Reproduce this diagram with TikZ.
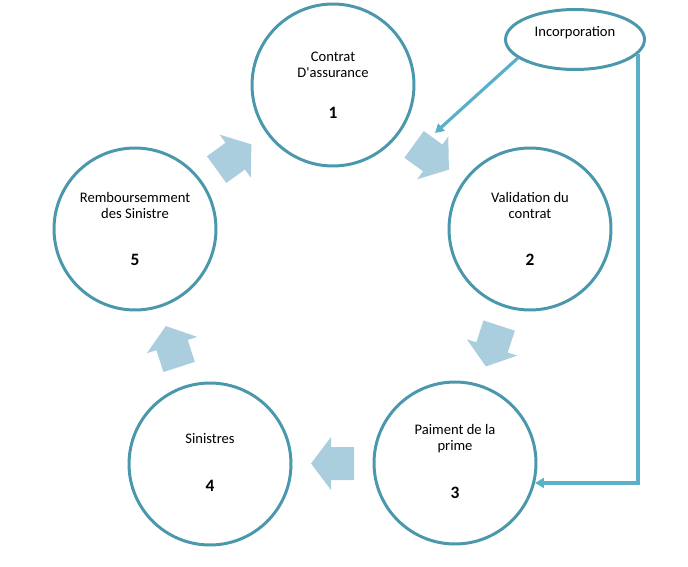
\documentclass[tikz,border=0pt]{standalone}
\usepackage{fontspec}
\setmainfont{Carlito}
\usetikzlibrary{calc,shapes.geometric,arrows.meta}

\definecolor{ringblue}{RGB}{75,152,172}
\definecolor{blockblue}{RGB}{170,206,221}
\definecolor{feedblue}{RGB}{90,176,200}

\begin{document}
\begin{tikzpicture}[x=0.02cm,y=0.02cm,
    stage/.style={circle,draw=ringblue,line width=1.7pt,minimum size=3.24cm,inner sep=0pt},
    stagetext/.style={align=center,font=\fontsize{8.3}{9.1}\selectfont},
    stagenum/.style={font=\fontsize{9.9}{11}\selectfont\bfseries},
    feed/.style={draw=feedblue,line width=1.8pt,-{Triangle[length=5pt,width=5.5pt]}}]

    \def\blockarrow{(-21.5,-16.5) -- (1.5,-16.5) -- (1.5,-26.5) -- (21.5,0) -- (1.5,26.5) -- (1.5,16.5) -- (-21.5,16.5) -- cycle}

    \useasboundingbox (0,0) rectangle (688,566);

    %draw circles:
    \node[stage] (c1) at (333,481) {};
    \node[stage] (c2) at (530,337) {};
    \node[stage] (c3) at (455,103) {};
    \node[stage] (c4) at (210,102) {};
    \node[stage] (c5) at (135,337) {};

    %texts:
    \node[stagetext] (t1) at (333,501) {Contrat\\D\textquotesingle assurance};
    \node[stagetext] (t2) at (530,361) {Validation du\\contrat};
    \node[stagetext] (t3) at (455,127) {Paiment de la\\prime};
    \node[stagetext] (t4) at (210,127) {Sinistres};
    \node[stagetext] (t5) at (135,361) {Remboursemment\\des Sinistre};
    \node[stagenum] (n1) at (333,453) {1};
    \node[stagenum] (n2) at (530,306) {2};
    \node[stagenum] (n3) at (455,73) {3};
    \node[stagenum] (n4) at (210,80) {4};
    \node[stagenum] (n5) at (135,306) {5};

    %block arrows:
    \fill[blockblue,shift={($(c5)!.5!(c1)$)},rotate=36] \blockarrow;
    \fill[blockblue,shift={($(c1)!.5!(c2)$)},rotate=-36] \blockarrow;
    \fill[blockblue,shift={($(c2)!.5!(c3)$)},rotate=-108] \blockarrow;
    \fill[blockblue,shift={($(c3)!.5!(c4)$)},rotate=180] \blockarrow;
    \fill[blockblue,shift={($(c4)!.5!(c5)$)},rotate=108] \blockarrow;

    %incorporation:
    \node[ellipse,draw=ringblue,line width=1.7pt,minimum width=2.78cm,minimum height=1.2cm,inner sep=0pt] (inc) at (575,526.5) {};
    \node[stagetext] (inctext) at (575,533) {Incorporation};
    \coordinate (tip) at (435,433);
    \draw[feed] (inc.198) -- (tip);
    \draw[feed] (inc.-13) |- (c3.-14);

\end{tikzpicture}
\end{document}
